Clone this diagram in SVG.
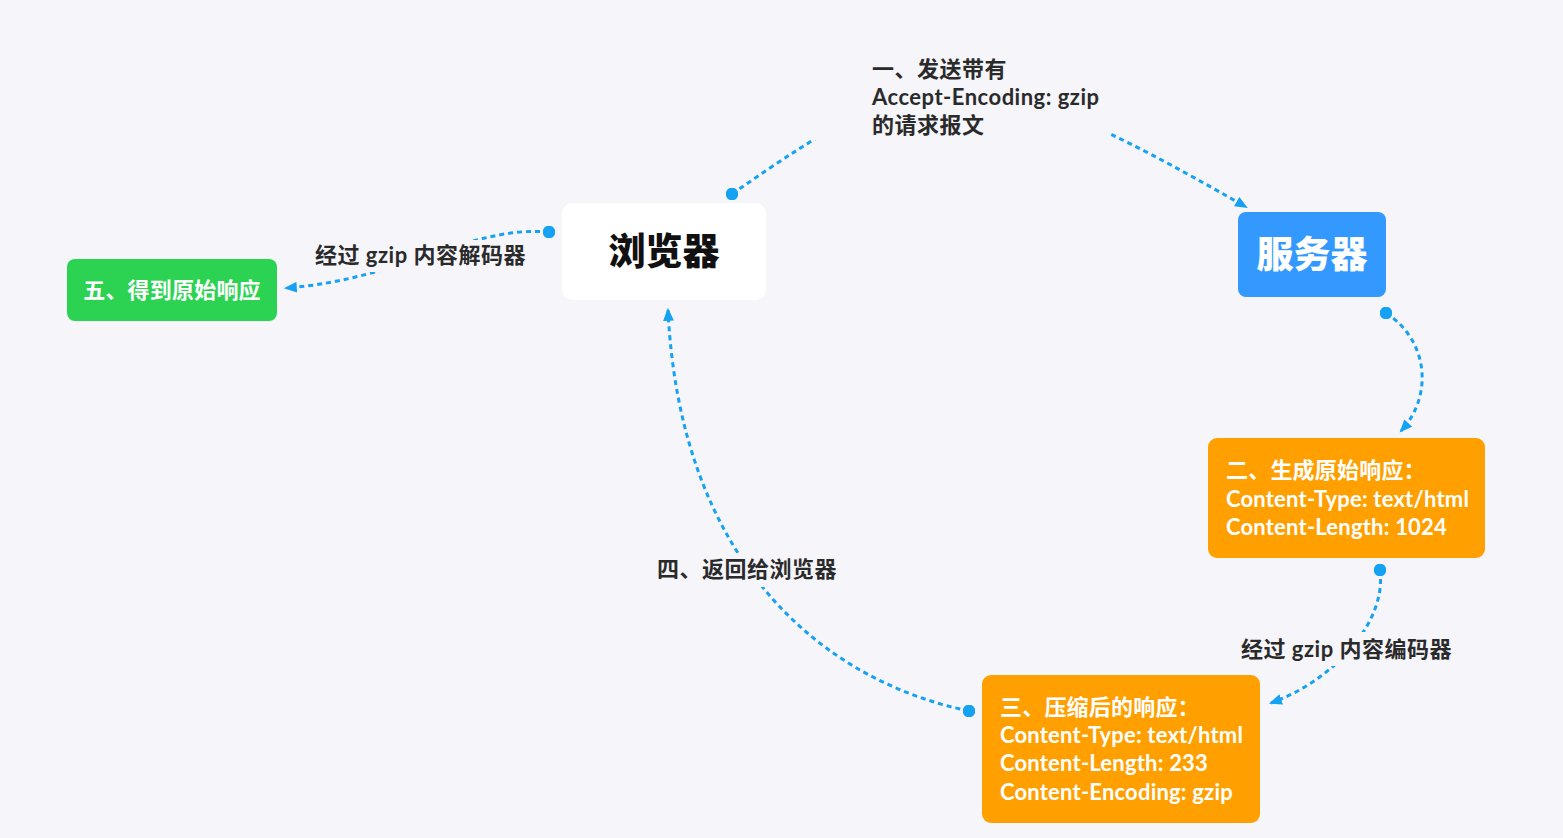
<svg xmlns="http://www.w3.org/2000/svg" width="1563" height="838" viewBox="0 0 1563 838">
<style>
.bg{fill:#f5f5fa}
.conn{fill:none;stroke:#16a2f2;stroke-width:3;stroke-dasharray:5 4}
.lbl{font-family:"Lato","Noto Sans CJK SC",sans-serif;font-weight:bold;font-size:22px;letter-spacing:0.5px;fill:#2a2a2a}
.ntxt{font-family:"Lato","Noto Sans CJK SC",sans-serif;font-weight:bold;font-size:22px;letter-spacing:0.2px;fill:#ffffff}
.big{font-family:"Noto Sans CJK SC",sans-serif;font-weight:900;font-size:37px}
</style>
<defs>
<marker id="dot" viewBox="0 0 10 10" refX="5" refY="5" markerWidth="4.2" markerHeight="4.2" markerUnits="strokeWidth"><circle cx="5" cy="5" r="5" fill="#16a2f2"/></marker>
<marker id="arr" viewBox="0 0 12 10" refX="10" refY="5" markerWidth="4.4" markerHeight="3.6" markerUnits="strokeWidth" orient="auto"><path d="M0,0 L12,5 L0,10 Z" fill="#16a2f2"/></marker>
</defs>
<rect class="bg" x="0" y="0" width="1563" height="838"/>
<g id="connectors">
<path class="conn" d="M732,194 C927,59 966,46 1246,207" marker-start="url(#dot)" marker-end="url(#arr)"/>
<rect class="bg" x="752" y="54" width="356" height="86"/>
<text class="lbl" x="872" y="77">一、发送带有</text>
<text class="lbl" x="872" y="105">Accept-Encoding: gzip</text>
<text class="lbl" x="872" y="133">的请求报文</text>
<path class="conn" d="M1386,313 C1428,340 1434,395 1401,431" marker-start="url(#dot)" marker-end="url(#arr)"/>
<path class="conn" d="M1380,570 C1387,625 1330,682 1271,703" marker-start="url(#dot)" marker-end="url(#arr)"/>
<rect class="bg" x="1236" y="632" width="220" height="34"/>
<text class="lbl" x="1241" y="657">经过 gzip 内容编码器</text>
<path class="conn" d="M969,711 C820,680 680,560 668,310" marker-start="url(#dot)" marker-end="url(#arr)"/>
<rect class="bg" x="652" y="553" width="186" height="34"/>
<text class="lbl" x="657" y="577">四、返回给浏览器</text>
<path class="conn" d="M549,232 C470,225 400,280 286,288" marker-start="url(#dot)" marker-end="url(#arr)"/>
<rect class="bg" x="310" y="240" width="220" height="32"/>
<text class="lbl" x="315" y="263">经过 gzip 内容解码器</text>
</g>
<g id="browser">
<rect x="562" y="203" width="204" height="97" rx="10" fill="#ffffff"/>
<text class="big" x="664" y="265" text-anchor="middle" fill="#111111">浏览器</text>
</g>
<g id="server">
<rect x="1238" y="212" width="148" height="85" rx="8" fill="#3399ff"/>
<text class="big" x="1312" y="268" text-anchor="middle" fill="#ffffff">服务器</text>
</g>
<g id="result">
<rect x="67" y="259" width="210" height="62" rx="8" fill="#2cd352"/>
<text class="ntxt" x="172" y="298" text-anchor="middle">五、得到原始响应</text>
</g>
<g id="raw-response">
<rect x="1208" y="438" width="277" height="120" rx="9" fill="#ffa000"/>
<text class="ntxt" x="1226" y="478">二、生成原始响应：</text>
<text class="ntxt" x="1226" y="507">Content-Type: text/html</text>
<text class="ntxt" x="1226" y="535">Content-Length: 1024</text>
</g>
<g id="compressed-response">
<rect x="982" y="675" width="278" height="148" rx="9" fill="#ffa000"/>
<text class="ntxt" x="1000" y="715">三、压缩后的响应：</text>
<text class="ntxt" x="1000" y="743">Content-Type: text/html</text>
<text class="ntxt" x="1000" y="771">Content-Length: 233</text>
<text class="ntxt" x="1000" y="800">Content-Encoding: gzip</text>
</g>
</svg>
